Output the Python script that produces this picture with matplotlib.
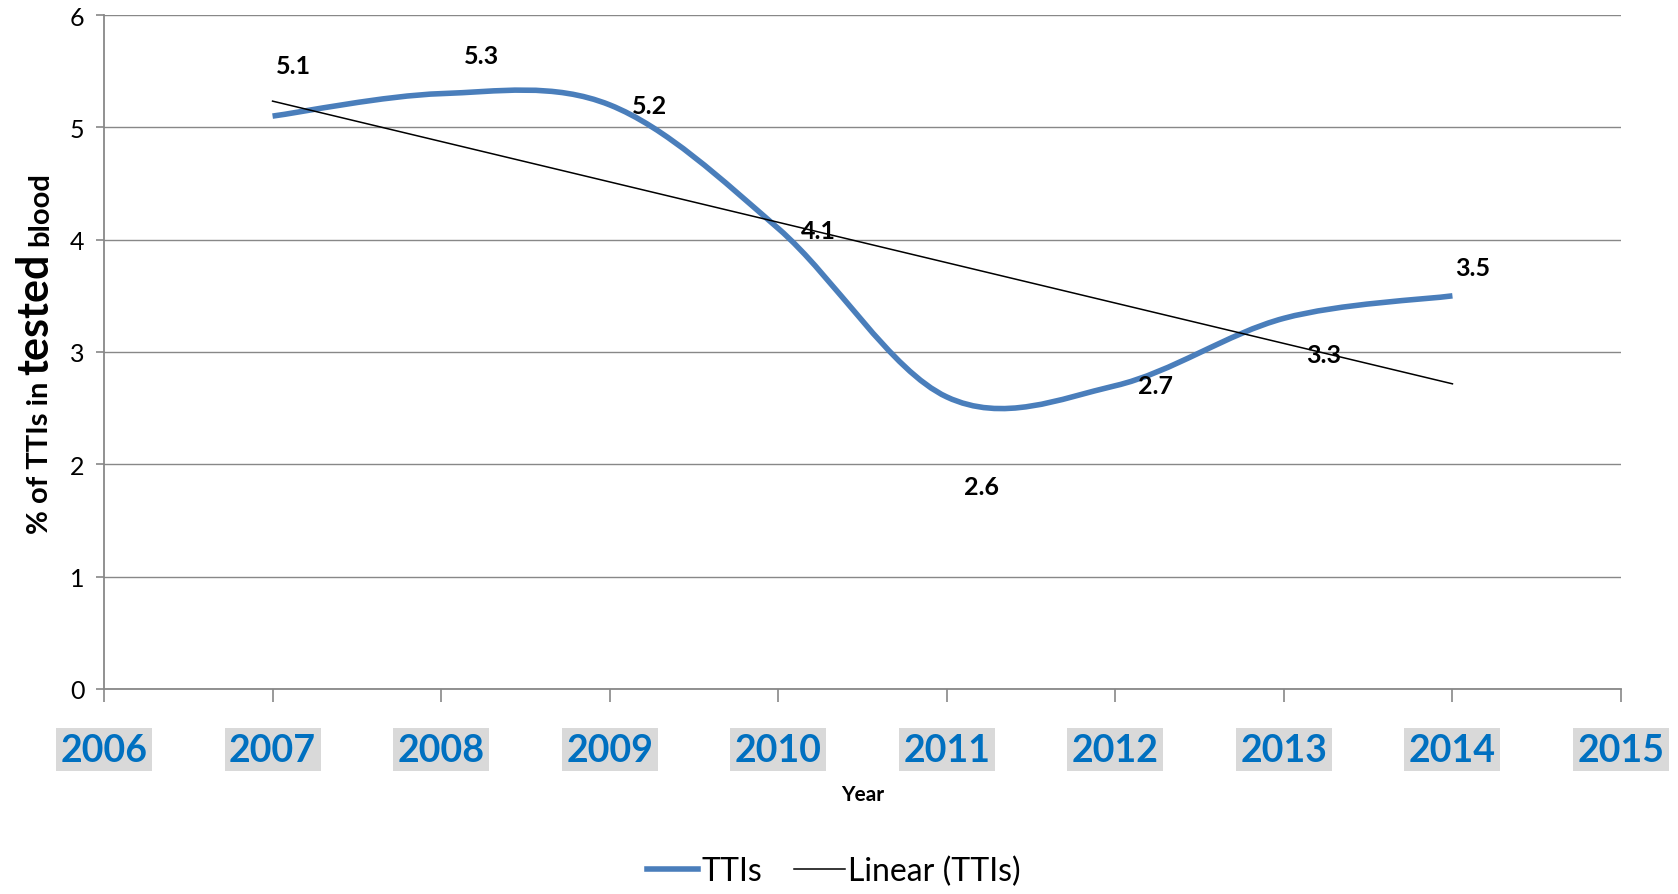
import numpy as np
import matplotlib
matplotlib.use("Agg")
import matplotlib.pyplot as plt
from matplotlib.path import Path
from matplotlib.patches import PathPatch
from matplotlib.lines import Line2D

# data
years = [2007, 2008, 2009, 2010, 2011, 2012, 2013, 2014]
ttis = [5.1, 5.3, 5.2, 4.1, 2.6, 2.7, 3.3, 3.5]
tick_years = [2006, 2007, 2008, 2009, 2010, 2011, 2012, 2013, 2014, 2015]
y_ticks = [0, 1, 2, 3, 4, 5, 6]

# where each value label sits relative to its point (pixels)
label_offsets = [(21, 51), (40, 38), (40, -1), (40, -2), (35, -90), (40, 0), (40, -36), (20, 28)]

FONT = "Lato"
BLUE = "#4a7ebb"
GRID = "#888888"

fig = plt.figure(figsize=(16.78, 8.95), dpi=100)
ax = fig.add_axes([104 / 1678, 1 - 690 / 895, (1621 - 104) / 1678, (690 - 16) / 895])

# smoothed line like excel (catmull-rom style bezier)
x = np.array(years, dtype=float)
y = np.array(ttis, dtype=float)
n = len(x)
verts = [(x[0], y[0])]
codes = [Path.MOVETO]
for i in range(n - 1):
    x0, y0 = (x[i - 1], y[i - 1]) if i > 0 else (x[i], y[i])
    x3, y3 = (x[i + 2], y[i + 2]) if i + 2 < n else (x[i + 1], y[i + 1])
    c1 = (x[i] + (x[i + 1] - x0) / 6, y[i] + (y[i + 1] - y0) / 6)
    c2 = (x[i + 1] - (x3 - x[i]) / 6, y[i + 1] - (y3 - y[i]) / 6)
    verts += [c1, c2, (x[i + 1], y[i + 1])]
    codes += [Path.CURVE4] * 3
curve = PathPatch(Path(verts, codes), facecolor="none", edgecolor=BLUE, lw=4, capstyle="butt", zorder=3)
ax.add_patch(curve)

# linear trend
slope, icpt = np.polyfit(x, y, 1)
ax.plot([x[0], x[-1]], [slope * x[0] + icpt, slope * x[-1] + icpt], color="black", lw=1.1, zorder=4)

for xi, yi, (dx, dy) in zip(years, ttis, label_offsets):
    ax.annotate(f"{yi:.1f}", (xi, yi), xytext=(dx, dy), textcoords="offset pixels",
                ha="center", va="center", fontsize=18, fontweight="bold", family=FONT, zorder=5)

ax.set_xlim(tick_years[0], tick_years[-1])
ax.set_ylim(y_ticks[0], y_ticks[-1])
ax.set_yticks(y_ticks)
ax.set_xticks(tick_years)
ax.set_xticklabels([str(t) for t in tick_years])
ax.grid(axis="y", color=GRID, lw=1.0)
ax.set_axisbelow(True)
for s in ["top", "right"]:
    ax.spines[s].set_visible(False)
for s in ["left", "bottom"]:
    ax.spines[s].set_color(GRID)
    ax.spines[s].set_linewidth(1.3)

ax.tick_params(axis="y", length=6, color=GRID, width=1.2, labelsize=18, pad=8)
ax.tick_params(axis="x", length=9.5, color=GRID, width=1.2, pad=22)
for lab in ax.get_yticklabels():
    lab.set_family(FONT)
for lab in ax.get_xticklabels():
    lab.set_family(FONT)
    lab.set_fontsize(27)
    lab.set_fontweight("bold")
    lab.set_color("#0070c0")
    lab.set_bbox(dict(boxstyle="square,pad=0.12", facecolor="#d9d9d9", edgecolor="none"))

ax.set_xlabel("Year", fontsize=15, fontweight="bold", family=FONT, va="center")
ax.xaxis.set_label_coords(0.5, -(795 - 690) / 674)

# y label made of three pieces with different sizes (figure pixels count from the bottom)
t1 = fig.text(48, 895 - 534, "% of TTIs in", transform=None, rotation=90, rotation_mode="anchor",
              ha="left", va="baseline", fontsize=21, fontweight="bold", family=FONT)
t2 = plt.annotate("tested", xy=(48, 1), xycoords=("figure pixels", t1), xytext=(0, 7),
                  textcoords="offset pixels", rotation=90, rotation_mode="anchor",
                  ha="left", va="baseline", fontsize=31, fontweight="bold", family=FONT,
                  annotation_clip=False)
t3 = plt.annotate("blood", xy=(48, 1), xycoords=("figure pixels", t2), xytext=(0, 7),
                  textcoords="offset pixels", rotation=90, rotation_mode="anchor",
                  ha="left", va="baseline", fontsize=21, fontweight="bold", family=FONT,
                  annotation_clip=False)

handles = [Line2D([], [], color=BLUE, lw=4), Line2D([], [], color="black", lw=1.1)]
fig.legend(handles, ["TTIs", "Linear (TTIs)"], loc="center", bbox_to_anchor=(0.497, 0.026),
           ncol=2, frameon=False, handlelength=1.6, handletextpad=0.1, columnspacing=1.0,
           prop={"family": FONT, "size": 23})

fig.savefig("out.png", dpi=100)
